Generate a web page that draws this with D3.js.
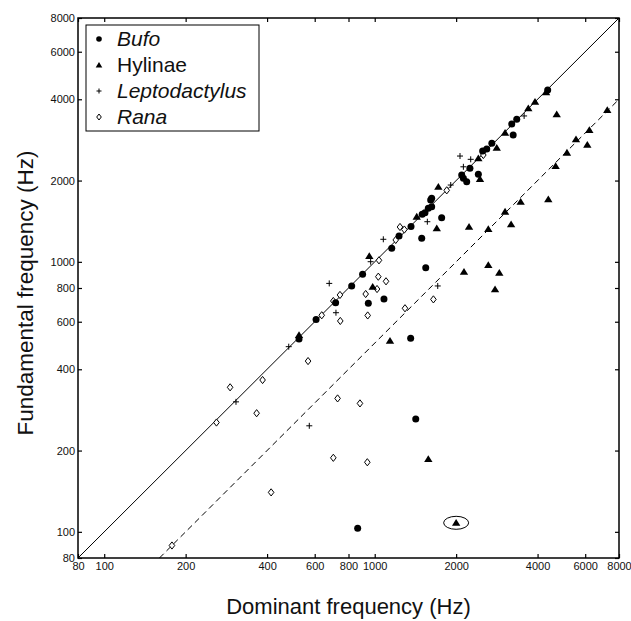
<!DOCTYPE html>
<html>
<head>
<meta charset="utf-8">
<script src="https://cdn.jsdelivr.net/npm/d3@7"></script>
<style>
  body { margin: 0; background: #fff; }
  svg { display: block; font-family: "Liberation Sans", Arial, Helvetica, sans-serif; }
</style>
</head>
<body>
<svg id="chart" width="631" height="621"></svg>
<script>
// dominant vs fundamental frequency, [x, y] in Hz
const bufo = [[4360,4330],[3350,3370],[3210,3240],[3250,2950],[2710,2750],[2595,2617],[2506,2574],
  [2249,2221],[2097,2097],[2127,2038],[2188,1980],[2416,2110],[1624,1719],[1610,1694],[1624,1600],
  [1578,1579],[1534,1521],[1498,1500],[1768,1457],[1362,1353],[1230,1246],[1156,1122],[1492,1223],
  [902,899],[1544,951],[822,814],[717,706],[947,702],[1082,728],[607,612],[525,518],[1358,521],
  [1418,262],[865,103]];
const hylinae = [[4300,4250],[3914,3918],[3697,3705],[4708,3520],[3033,3008],[2826,2647],[2416,2418],
  [2450,2027],[1719,1898],[1430,1470],[1696,1331],[2232,1349],[955,1051],[983,809],[525,536],
  [1139,510],[2138,919],[2630,973],[2888,911],[2785,791],[2630,1323],[3033,1534],[3464,1670],
  [4383,1705],[3193,1377],[4665,2265],[5137,2538],[5548,2844],[6109,2714],[6215,3078],[7241,3650],
  [1578,186],[2000,108]];
const leptodactylus = [[3567,3470],[2067,2465],[2264,2397],[2127,2249],[1910,1925],[1565,1408],
  [1076,1212],[966,1001],[679,832],[719,648],[481,485],[307,303],[573,247],[1710,814]];
const rana = [[2521,2487],[1846,1840],[1240,1346],[1287,1317],[1196,1205],[1037,1013],[1031,881],
  [1101,847],[1020,793],[926,760],[744,754],[703,716],[637,634],[746,604],[942,633],[1648,726],
  [1294,673],[567,429],[385,365],[292,343],[366,275],[260,254],[729,312],[882,299],[703,188],
  [939,181],[414,140],[178,89]];
const tickValues = [80, 100, 200, 400, 600, 800, 1000, 2000, 4000, 6000, 8000];
const legendNames = ["Bufo", "Hylinae", "Leptodactylus", "Rana"];
const legendItalic = [true, false, true, true];
const circled = [2000, 108]; // highlighted point

const svg = d3.select("#chart");
const plotL = 78, plotR = 619, plotT = 18, plotB = 558;

const x = d3.scaleLog().domain([80, 8000]).range([plotL, plotR]);
const y = d3.scaleLog().domain([80, 8000]).range([plotB, plotT]);

const fmt = d3.format("d");

// axes with inward ticks
const gx = svg.append("g").attr("transform", `translate(0,${plotB})`)
  .call(d3.axisBottom(x).tickValues(tickValues).tickFormat(fmt).tickSizeInner(-4).tickSizeOuter(0).tickPadding(4));
const gy = svg.append("g").attr("transform", `translate(${plotL},0)`)
  .call(d3.axisLeft(y).tickValues(tickValues).tickFormat(fmt).tickSizeInner(-4).tickSizeOuter(0).tickPadding(3));
const gt = svg.append("g").attr("transform", `translate(0,${plotT})`)
  .call(d3.axisTop(x).tickValues(tickValues).tickFormat("").tickSizeInner(-4).tickSizeOuter(0));
const gr = svg.append("g").attr("transform", `translate(${plotR},0)`)
  .call(d3.axisRight(y).tickValues(tickValues).tickFormat("").tickSizeInner(-4).tickSizeOuter(0));

[gx, gy, gt, gr].forEach(g => {
  g.select(".domain").remove();
  g.selectAll("line").attr("stroke", "#000").attr("stroke-width", 1.2);
  g.selectAll("text").attr("fill", "#111").attr("font-size", 11)
    .attr("font-family", "'Liberation Sans', Arial, sans-serif");
});

// reference lines: y = x and y = x / 2
const line = d3.line().x(d => x(d[0])).y(d => y(d[1]));
svg.append("path").attr("d", line([[80, 80], [8000, 8000]]))
  .attr("fill", "none").attr("stroke", "#000").attr("stroke-width", 1);
svg.append("path").attr("d", line([[160, 80], [8000, 4000]]))
  .attr("fill", "none").attr("stroke", "#000").attr("stroke-width", 1)
  .attr("stroke-dasharray", "6,4");

// frame
svg.append("rect").attr("x", plotL).attr("y", plotT)
  .attr("width", plotR - plotL).attr("height", plotB - plotT)
  .attr("fill", "none").attr("stroke", "#000").attr("stroke-width", 1.5);

const triPath = s => `M0,${-s}L${s * 1.1},${s * 0.8}L${-s * 1.1},${s * 0.8}Z`;
const diaPath = (w, h) => `M0,${-h}L${w},0L0,${h}L${-w},0Z`;
const plusPath = s => `M${-s},0H${s}M0,${-s}V${s}`;

// markers
const pts = svg.append("g");
pts.selectAll(".rana").data(rana).join("path")
  .attr("transform", d => `translate(${x(d[0])},${y(d[1])})`)
  .attr("d", diaPath(2.8, 3.6)).attr("fill", "#fff").attr("stroke", "#000").attr("stroke-width", 1);
pts.selectAll(".lep").data(leptodactylus).join("path")
  .attr("transform", d => `translate(${x(d[0])},${y(d[1])})`)
  .attr("d", plusPath(3)).attr("fill", "none").attr("stroke", "#000").attr("stroke-width", 1);
pts.selectAll(".hyl").data(hylinae).join("path")
  .attr("transform", d => `translate(${x(d[0])},${y(d[1])})`)
  .attr("d", triPath(3.8)).attr("fill", "#000");
pts.selectAll(".bufo").data(bufo).join("circle")
  .attr("cx", d => x(d[0])).attr("cy", d => y(d[1])).attr("r", 3.5).attr("fill", "#000");

// ellipse round the highlighted point
svg.append("ellipse").attr("cx", x(circled[0])).attr("cy", y(circled[1]))
  .attr("rx", 12.5).attr("ry", 6.5).attr("fill", "none").attr("stroke", "#000").attr("stroke-width", 1);

// legend
const lg = svg.append("g");
lg.append("rect").attr("x", 86).attr("y", 25).attr("width", 173).attr("height", 106)
  .attr("fill", "#fff").attr("stroke", "#000").attr("stroke-width", 1);
legendNames.forEach((name, i) => {
  const cy = 39 + i * 26;
  const m = lg.append("g").attr("transform", `translate(99,${cy})`);
  if (i === 0) m.append("circle").attr("r", 2.8).attr("fill", "#000");
  if (i === 1) m.append("path").attr("d", triPath(3)).attr("fill", "#000");
  if (i === 2) m.append("path").attr("d", plusPath(2.5)).attr("stroke", "#000").attr("stroke-width", 1);
  if (i === 3) m.append("path").attr("d", diaPath(2.3, 3)).attr("fill", "#fff").attr("stroke", "#000");
  lg.append("text").attr("x", 117).attr("y", cy).attr("dy", "0.35em")
    .attr("font-size", 21).attr("font-style", legendItalic[i] ? "italic" : "normal")
    .attr("fill", "#111").text(name);
});

// axis titles
svg.append("text").attr("x", (plotL + plotR) / 2).attr("y", 614)
  .attr("text-anchor", "middle").attr("font-size", 22).attr("fill", "#111")
  .text("Dominant frequency (Hz)");
svg.append("text").attr("transform", "translate(33,293) rotate(-90)")
  .attr("text-anchor", "middle").attr("font-size", 22.5).attr("fill", "#111")
  .text("Fundamental frequency (Hz)");
</script>
</body>
</html>
